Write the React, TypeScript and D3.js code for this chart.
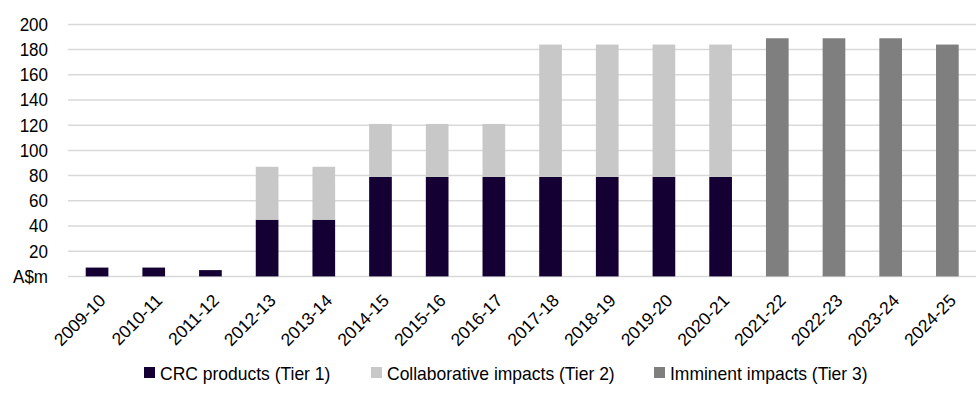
import React from "react";
import * as d3 from "d3";

const categories = ["2009-10","2010-11","2011-12","2012-13","2013-14","2014-15","2015-16","2016-17","2017-18","2018-19","2019-20","2020-21","2021-22","2022-23","2023-24","2024-25"];
const tier1 = [7,7,5,45,45,79,79,79,79,79,79,79,0,0,0,0];
const tier2 = [0,0,0,42,42,42,42,42,105,105,105,105,0,0,0,0];
const tier3 = [0,0,0,0,0,0,0,0,0,0,0,0,189,189,189,184];
const seriesNames = ["CRC products (Tier 1)","Collaborative impacts (Tier 2)","Imminent impacts (Tier 3)"];
const colors = ["#150033","#C8C8C8","#7F7F7F"];
const yTicks = [0,20,40,60,80,100,120,140,160,180,200];
const yTickLabels = ["A$m","20","40","60","80","100","120","140","160","180","200"];

const W = 977, H = 401;
const FONT = "'Liberation Sans', Arial, sans-serif";

export default function App() {
  const x = d3.scaleBand<string>().domain(categories).range([68.7, 975.7]).paddingInner(0.6).paddingOuter(0.3);
  const y = d3.scaleLinear().domain([0, 200]).range([276.4, 24.4]);
  const rows = categories.map((c, i) => ({ c, t1: tier1[i], t2: tier2[i], t3: tier3[i] }));
  const stack = d3.stack<any>().keys(["t1","t2","t3"])(rows);
  const legendX = [144, 371, 654];
  return (
    <svg width={W} height={H} style={{ position: "absolute", left: 0, top: 0 }} fontFamily={FONT}>
      {yTicks.map((t, i) => (
        <g key={t}>
          <line x1={68} x2={976} y1={y(t)} y2={y(t)} stroke="#D9D9D9" strokeWidth={1.5} />
          <text transform={`translate(48,${y(t)}) scale(1,1.06)`} dy="0.36em" textAnchor="end" fontSize={17} fill="#000">{yTickLabels[i]}</text>
        </g>
      ))}
      {stack.map((s, si) => (
        <g key={si} fill={colors[si]}>
          {s.map((d, i) => d[1] - d[0] > 0 ? (
            <rect key={i} x={x(categories[i])} width={x.bandwidth()} y={y(d[1])} height={y(d[0]) - y(d[1])} />
          ) : null)}
        </g>
      ))}
      {categories.map((c) => {
        const cx = (x(c) as number) + x.bandwidth() / 2 + 1;
        const ty = 293;
        return (
          <text key={c} transform={`translate(${cx},${ty}) rotate(-45)`} textAnchor="end" dy="0.7em" fontSize={17.5} fill="#000">{c}</text>
        );
      })}
      {seriesNames.map((n, i) => (
        <g key={n} transform={`translate(${legendX[i]},367)`}>
          <rect x={0} y={0} width={11} height={11} fill={colors[i]} />
          <text transform="translate(16,6) scale(1,1.06)" dy="0.36em" fontSize={17.5} fill="#000">{n}</text>
        </g>
      ))}
    </svg>
  );
}
